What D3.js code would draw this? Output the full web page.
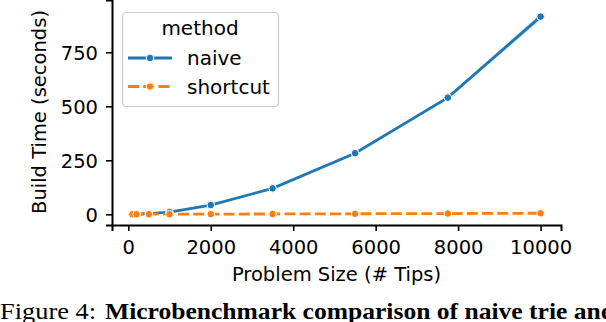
<!DOCTYPE html>
<html>
<head>
<meta charset="utf-8">
<script src="https://cdn.jsdelivr.net/npm/d3@7"></script>
<style>
  body { margin: 0; background: #fff; }
  svg { display: block; }
</style>
</head>
<body>
<div class="chart"></div>
<script>
const tips = [100, 200, 500, 1000, 2000, 3500, 5500, 7750, 10000];
const naive = [0.5, 1, 3, 10, 43, 120, 283, 540, 915];
const naiveLo = [0.4, 0.8, 2.5, 8, 41, 117, 279, 534, 898];
const naiveHi = [0.6, 1.2, 3.5, 12, 45, 123, 287, 546, 932];
const shortcut = [0.1, 0.2, 0.4, 0.6, 1, 1.5, 2.5, 3.5, 5];
const xTicks = [0, 2000, 4000, 6000, 8000, 10000];
const yTicks = [0, 250, 500, 750];
const methods = ["naive", "shortcut"];

document.addEventListener('DOMContentLoaded', function() {
  const w = 606;
  const h = 322;
  const blue = "#1f77b4";
  const orange = "#ff7f0e";
  const font = "'DejaVu Sans', sans-serif";

  const xScale = d3.scaleLinear()
                   .domain([-395, 10495])
                   .range([112, 561]);
  const yScale = d3.scaleLinear()
                   .domain([-49.5, 992])
                   .range([225, 0]);

  const svg = d3.select(".chart")
                .append("svg")
                .attr("width", w)
                .attr("height", h);

  // axes (seaborn despined: left + bottom only)
  const xAxis = svg.append("g")
     .attr("transform", "translate(0,225)")
     .call(d3.axisBottom(xScale).tickValues(xTicks).tickSize(6).tickPadding(8).tickFormat(d3.format("d")));
  const yAxis = svg.append("g")
     .attr("transform", "translate(112,0)")
     .call(d3.axisLeft(yScale).tickValues(yTicks).tickSize(6).tickPadding(8));

  [xAxis, yAxis].forEach(function(ax) {
    ax.select(".domain").attr("stroke", "#000").attr("stroke-width", 2);
    ax.selectAll(".tick line").attr("stroke", "#000").attr("stroke-width", 1.6);
    ax.selectAll(".tick text")
      .attr("font-family", font)
      .attr("font-size", 19.5)
      .attr("fill", "#000");
  });
  yAxis.selectAll(".tick text").attr("dy", "0.35em");
  xAxis.selectAll(".tick text").attr("dy", "0.75em");

  // error band
  const band = d3.area()
     .x((d, i) => xScale(tips[i]))
     .y0((d, i) => yScale(naiveLo[i]))
     .y1((d, i) => yScale(naiveHi[i]));
  svg.append("path")
     .datum(naive)
     .attr("d", band)
     .attr("fill", blue)
     .attr("fill-opacity", 0.2);

  const line = d3.line()
     .x((d, i) => xScale(tips[i]))
     .y(d => yScale(d));

  const series = [
    { name: "naive", values: naive, color: blue, dash: null },
    { name: "shortcut", values: shortcut, color: orange, dash: "11,4.2" }
  ];

  series.forEach(function(s) {
    svg.append("path")
       .datum(s.values)
       .attr("d", line)
       .attr("fill", "none")
       .attr("stroke", s.color)
       .attr("stroke-width", 2.8)
       .attr("stroke-dasharray", s.dash);
  });

  series.forEach(function(s) {
    svg.append("g")
       .selectAll("circle")
       .data(s.values)
       .enter()
       .append("circle")
       .attr("cx", (d, i) => xScale(tips[i]))
       .attr("cy", d => yScale(d))
       .attr("r", 3.8)
       .attr("fill", s.color)
       .attr("stroke", "#fff")
       .attr("stroke-width", 1);
  });

  // axis labels
  svg.append("text")
     .attr("x", 336.5)
     .attr("y", 281)
     .attr("text-anchor", "middle")
     .attr("font-family", font)
     .attr("font-size", 19.5)
     .text("Problem Size (# Tips)");
  svg.append("text")
     .attr("transform", "translate(46,112) rotate(-90)")
     .attr("text-anchor", "middle")
     .attr("font-family", font)
     .attr("font-size", 19.5)
     .text("Build Time (seconds)");

  // legend
  const legend = svg.append("g");
  legend.append("rect")
     .attr("x", 122.5)
     .attr("y", 12.5)
     .attr("width", 156)
     .attr("height", 94)
     .attr("rx", 4)
     .attr("fill", "#fff")
     .attr("fill-opacity", 0.8)
     .attr("stroke", "#cccccc")
     .attr("stroke-width", 1.2);
  legend.append("text")
     .attr("x", 200)
     .attr("y", 35)
     .attr("text-anchor", "middle")
     .attr("font-family", font)
     .attr("font-size", 20)
     .text("method");
  series.forEach(function(s, i) {
    const ly = 58 + i * 28.5;
    legend.append("line")
       .attr("x1", 128).attr("x2", 172)
       .attr("y1", ly).attr("y2", ly)
       .attr("stroke", s.color)
       .attr("stroke-width", 2.8)
       .attr("stroke-dasharray", s.dash);
    legend.append("circle")
       .attr("cx", 150).attr("cy", ly)
       .attr("r", 3.8)
       .attr("fill", s.color)
       .attr("stroke", "#fff")
       .attr("stroke-width", 1);
    legend.append("text")
       .attr("x", 187)
       .attr("y", ly)
       .attr("dy", "0.35em")
       .attr("font-family", font)
       .attr("font-size", 20)
       .text(methods[i]);
  });

  // caption (cut off at the right edge, as in the source)
  svg.append("text")
     .attr("x", 0)
     .attr("y", 318.5)
     .attr("font-family", "'Liberation Serif', serif")
     .attr("font-size", 24)
     .attr("textLength", 96)
     .attr("lengthAdjust", "spacingAndGlyphs")
     .text("Figure 4:");
  svg.append("text")
     .attr("x", 105)
     .attr("y", 318.5)
     .attr("font-family", "'Liberation Serif', serif")
     .attr("font-size", 24)
     .attr("font-weight", "bold")
     .attr("textLength", 510)
     .attr("lengthAdjust", "spacingAndGlyphs")
     .text("Microbenchmark comparison of naive trie and");
});
</script>
</body>
</html>
